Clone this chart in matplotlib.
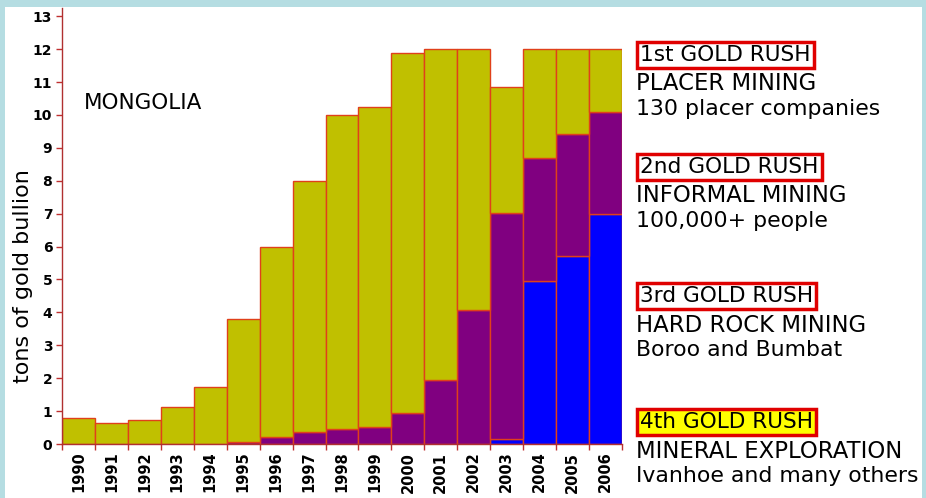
import matplotlib
matplotlib.use("Agg")
import matplotlib.pyplot as plt
import numpy as np

years = ["1990", "1991", "1992", "1993", "1994", "1995", "1996", "1997", "1998",
         "1999", "2000", "2001", "2002", "2003", "2004", "2005", "2006"]
# segment sizes (tons)
hard_rock = [0, 0, 0, 0, 0, 0, 0, 0, 0, 0, 0, 0, 0, 0.14, 4.96, 5.72, 7.0]
informal_top = [0, 0, 0, 0, 0, 0.07, 0.2, 0.37, 0.47, 0.53, 0.94, 1.95, 4.07, 7.01, 8.68, 9.42, 10.09]
totals = [0.8, 0.63, 0.72, 1.13, 1.72, 3.8, 6.0, 8.0, 10.0, 10.25, 11.89, 12.0, 12.0, 10.84, 12.0, 12.0, 12.0]

informal = [t - h for t, h in zip(informal_top, hard_rock)]
placer = [t - i for t, i in zip(totals, informal_top)]

yticks = list(range(0, 14))

W, H = 926, 498
fig = plt.figure(figsize=(W / 100, H / 100), dpi=100)
fig.patch.set_facecolor("#b5dde2")
# white panel
panel = plt.Rectangle((5 / W, 0), (922 - 5) / W, 1 - 7 / H, transform=fig.transFigure,
                      facecolor="white", edgecolor="none", zorder=-10)
fig.patches.append(panel)

ax = fig.add_axes([62 / W, 54 / H, 560 / W, (444 - 8) / H])
ax.set_zorder(5)
ax.set_facecolor("none")
x = np.arange(len(years))
edge = "#e0401a"
ax.bar(x, hard_rock, width=1.0, color="#0000ff", edgecolor=edge, linewidth=1.0)
ax.bar(x, informal, bottom=hard_rock, width=1.0, color="#800080", edgecolor=edge, linewidth=1.0)
ax.bar(x, placer, bottom=informal_top, width=1.0, color="#c0c000", edgecolor=edge, linewidth=1.0)

ax.set_xlim(-0.5, len(years) - 0.5)
ax.set_ylim(0, 13.25)
for s in ["top", "right"]:
    ax.spines[s].set_visible(False)
for s in ["left", "bottom"]:
    ax.spines[s].set_color("#b03030")
    ax.spines[s].set_linewidth(1.0)

ax.set_yticks(yticks)
ax.set_yticklabels([str(v) for v in yticks], fontweight="bold", fontsize=10)
ax.tick_params(axis="y", colors="#c03030", length=4, width=1, labelcolor="black", pad=3)

ax.set_xticks(np.arange(len(years) + 1) - 0.5)
ax.set_xticklabels([])
ax.set_xticks(x, minor=True)
ax.set_xticklabels(years, minor=True, rotation=90, fontweight="bold", fontsize=10.5)
ax.tick_params(axis="x", which="major", colors="#c03030", length=4, width=1)
ax.tick_params(axis="x", which="minor", length=0, pad=5.5, labelcolor="black")

fig.text(23 / W, 1 - 276 / H, "tons of gold bullion", rotation=90, ha="center", va="center",
         fontsize=16, color="black")
fig.text(84 / W, 1 - 103 / H, "MONGOLIA", ha="left", va="center", fontsize=15.5, color="black")

xr = 640 / W
def rush(title, l1, l2, yc, fc="white"):
    fig.text(xr, 1 - yc / H, title, ha="left", va="center", fontsize=15.6,
             bbox=dict(boxstyle="square,pad=0.15", fc=fc, ec="#e00000", lw=2.5))
    fig.text(636 / W, 1 - (yc + 29) / H, l1, ha="left", va="center", fontsize=16.4)
    fig.text(636 / W, 1 - (yc + 54) / H, l2, ha="left", va="center", fontsize=15.8)

rush("1st GOLD RUSH", "PLACER MINING", "130 placer companies", 55)
rush("2nd GOLD RUSH", "INFORMAL MINING", "100,000+ people", 167)
rush("3rd GOLD RUSH", "HARD ROCK MINING", "Boroo and Bumbat", 296)
rush("4th GOLD RUSH", "MINERAL EXPLORATION", "Ivanhoe and many others", 422, fc="#ffff00")

fig.savefig("out.png", dpi=100, facecolor=fig.get_facecolor())
